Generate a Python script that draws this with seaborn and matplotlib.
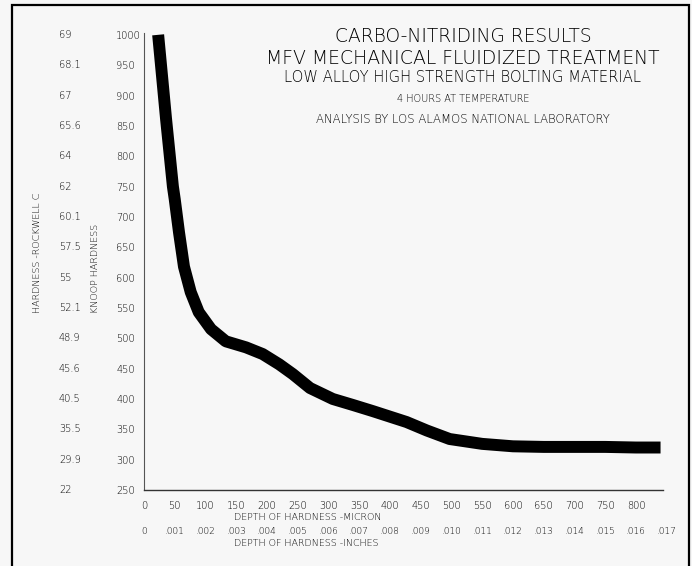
import numpy as np
import pandas as pd
import matplotlib.pyplot as plt
import matplotlib.patches as patches
import matplotlib.transforms as mtransforms
import seaborn as sns

# depth (micron) vs Knoop hardness
depth_micron = [23, 31, 36, 47, 50, 57, 65, 76, 89, 109, 133, 166, 193, 220, 242,
                270, 307, 340, 372, 427, 460, 497, 550, 600, 650, 700, 750, 800, 840]
knoop = [1000, 914, 860, 750, 729, 674, 618, 576, 543, 515, 495, 485, 474, 457, 441,
         418, 400, 390, 380, 362, 348, 334, 326, 322, 321, 321, 321, 320, 320]

knoop_ticks = [1000, 950, 900, 850, 800, 750, 700, 650, 600, 550, 500, 450, 400, 350, 300, 250]
rockwell_labels = ['69', '68.1', '67', '65.6', '64', '62', '60.1', '57.5', '55', '52.1',
                   '48.9', '45.6', '40.5', '35.5', '29.9', '22']
micron_ticks = list(range(0, 801, 50))
inch_labels = ['0', '.001', '.002', '.003', '.004', '.005', '.006', '.007', '.008', '.009',
               '.010', '.011', '.012', '.013', '.014', '.015', '.016', '.017']

title_lines = [
    ('CARBO-NITRIDING RESULTS', 13.4),
    ('MFV MECHANICAL FLUIDIZED TREATMENT', 13.6),
    ('LOW ALLOY HIGH STRENGTH BOLTING MATERIAL', 10.6),
    ('4 HOURS AT TEMPERATURE', 7.0),
    ('ANALYSIS BY LOS ALAMOS NATIONAL LABORATORY', 8.4),
]
title_y = [37, 58, 78, 99, 119]

sns.set_style('white')
plt.rcParams['font.family'] = ['DejaVu Sans']
plt.rcParams['font.weight'] = 'light'
plt.rcParams['text.color'] = 'black'
plt.rcParams['xtick.color'] = 'black'
plt.rcParams['ytick.color'] = 'black'

W, H = 692, 566
bg = '#f7f7f7'
fig = plt.figure(figsize=(W / 100, H / 100), dpi=100, facecolor=bg)
ax = fig.add_axes([144 / W, 1 - 490 / H, (663 - 144) / W, (490 - 33) / H])
ax.set_facecolor(bg)

df = pd.DataFrame({'depth': depth_micron, 'knoop': knoop})
sns.lineplot(data=df, x='depth', y='knoop', ax=ax, color='black', linewidth=8.6,
             sort=False)
for ln in ax.lines:
    ln.set_solid_capstyle('butt')
    ln.set_solid_joinstyle('round')

ax.set_xlim(0, 844)
ax.set_ylim(250, 1003)
ax.set_xlabel('')
ax.set_ylabel('')

for s in ['top', 'right']:
    ax.spines[s].set_visible(False)
ax.spines['left'].set_color('#555555')
ax.spines['left'].set_linewidth(0.8)
ax.spines['bottom'].set_color('#333333')
ax.spines['bottom'].set_linewidth(1.0)

ax.set_yticks(knoop_ticks)
ax.set_yticklabels([str(v) for v in knoop_ticks], fontsize=7, ha='left')
ax.tick_params(axis='y', length=0, pad=20)
ax.set_xticks(micron_ticks)
ax.set_xticklabels([str(v) for v in micron_ticks], fontsize=7)
ax.tick_params(axis='x', length=0, pad=8)

# Rockwell C column
ytr = ax.get_yaxis_transform()
for v, lab in zip(knoop_ticks, rockwell_labels):
    ax.text((59 - 144) / 519, v, lab, transform=ytr, fontsize=7, ha='left',
            va='center', clip_on=False)

# inch scale row
xtr = mtransforms.blended_transform_factory(ax.transData, ax.transAxes)
inch_pos = list(range(0, 851, 50))
for x, lab in zip(inch_pos, inch_labels):
    ax.text(x, -(531 - 490) / 457, lab, transform=xtr, fontsize=6.5, ha='center',
            va='center', clip_on=False)

fig.text(234 / W, 1 - 518 / H, 'DEPTH OF HARDNESS -MICRON', fontsize=6.8,
         ha='left', va='center')
fig.text(234 / W, 1 - 544 / H, 'DEPTH OF HARDNESS -INCHES', fontsize=6.8,
         ha='left', va='center')
fig.text(38 / W, 1 - 313 / H, 'HARDNESS -ROCKWELL C', fontsize=6.8, rotation=90,
         ha='center', va='bottom')
fig.text(95 / W, 1 - 313 / H, 'KNOOP HARDNESS', fontsize=6.8, rotation=90,
         ha='center', va='bottom')

for (txt, fs), y in zip(title_lines, title_y):
    fig.text(463 / W, 1 - y / H, txt, fontsize=fs, ha='center', va='center')

# frame around the whole sheet
fig.patches.append(patches.Rectangle((12 / W, -0.02), (689 - 12) / W, 1.02 - 5 / H,
                                     transform=fig.transFigure, fill=False,
                                     edgecolor='black', linewidth=1.6))

fig.savefig('out.png', dpi=100, facecolor=bg)
